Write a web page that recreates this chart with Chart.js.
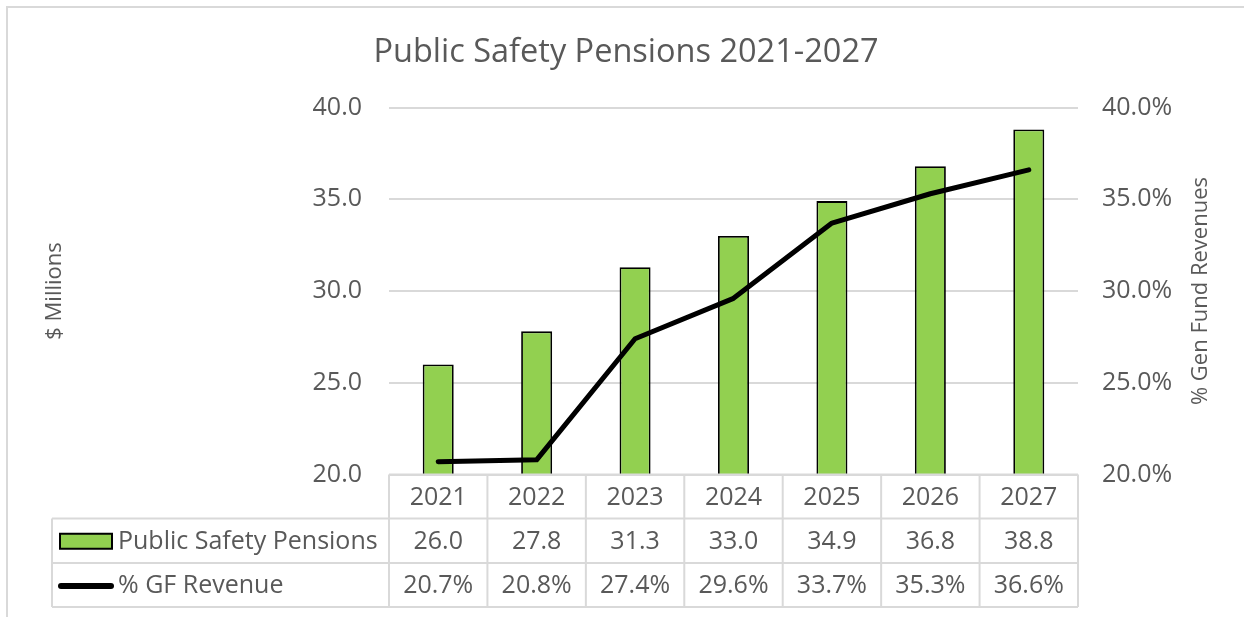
<!DOCTYPE html>
<html>
<head>
<meta charset="utf-8">
<script src="https://cdn.jsdelivr.net/npm/chart.js@4.4.1/dist/chart.umd.min.js"></script>
<style>
  html, body { margin: 0; padding: 0; background: #fff; }
  #wrap { width: 1244px; height: 617px; }
</style>
</head>
<body>
<div id="wrap"><canvas id="chart_publicSafetyPensions" width="1244" height="617"></canvas></div>
<script>
// values
const years = ['2021', '2022', '2023', '2024', '2025', '2026', '2027'];
const pensions = [26.0, 27.8, 31.3, 33.0, 34.9, 36.8, 38.8];      // $ millions
const gfRevenuePct = [20.7, 20.8, 27.4, 29.6, 33.7, 35.3, 36.6];  // % of general fund revenues

const barLabel = 'Public Safety Pensions';
const lineLabel = '% GF Revenue';

const FONT = "'Open Sans', 'Noto Sans', sans-serif";
const TEXT = '#595959';
const GRID = '#d9d9d9';
const GREEN = '#92D050';

var chart_publicSafetyPensions = new Chart(document.getElementById('chart_publicSafetyPensions'), {
    type: 'bar',
    data: {
        labels: years,
        datasets: [
            {
                type: 'line',
                label: lineLabel,
                data: gfRevenuePct,
                yAxisID: 'y1',
                order: 0,
                borderColor: '#000',
                borderWidth: 5,
                borderCapStyle: 'round',
                borderJoinStyle: 'round',
                pointRadius: 0,
                tension: 0,
                fill: false
            },
            {
                label: barLabel,
                data: pensions,
                yAxisID: 'y',
                order: 1,
                backgroundColor: GREEN,
                borderColor: '#000',
                borderWidth: 1.8,
                categoryPercentage: 1,
                barPercentage: 0.315
            }
        ]
    },
    options: {
        animation: false,
        responsive: false,
        layout: {
            padding: { left: 8, right: 0, top: 0, bottom: 142.5 }
        },
        plugins: {
            legend: { display: false },
            tooltip: { enabled: false },
            title: {
                display: true,
                text: 'Public Safety Pensions 2021-2027',
                color: TEXT,
                font: { family: FONT, size: 32.5, weight: 'normal' },
                padding: { top: 33, bottom: 35.5 }
            }
        },
        scales: {
            x: {
                display: false,
                offset: true
            },
            y: {
                position: 'left',
                min: 20,
                max: 40,
                ticks: {
                    stepSize: 5,
                    padding: 27,
                    color: TEXT,
                    font: { family: FONT, size: 25 },
                    callback: v => v.toFixed(1)
                },
                grid: { color: GRID, lineWidth: 2, drawTicks: false },
                border: { display: false },
                title: {
                    display: true,
                    text: '$ Millions',
                    color: TEXT,
                    font: { family: FONT, size: 22 },
                    padding: { top: 34, bottom: 0 }
                },
                afterFit: s => { s.width = 381; }
            },
            y1: {
                position: 'right',
                min: 20,
                max: 40,
                ticks: {
                    stepSize: 5,
                    padding: 24,
                    color: TEXT,
                    font: { family: FONT, size: 25 },
                    callback: v => v.toFixed(1) + '%'
                },
                grid: { drawOnChartArea: false, drawTicks: false },
                border: { display: false },
                afterFit: s => { s.width = 166; }
            }
        }
    },
    plugins: [{
        id: 'frameAndTable',
        beforeDraw: (chart) => {
            const ctx = chart.ctx;
            ctx.save();
            ctx.fillStyle = 'white';
            ctx.fillRect(0, 0, chart.width, chart.height);
            // outer chart border (only top and left visible in the crop)
            ctx.strokeStyle = GRID;
            ctx.lineWidth = 2;
            ctx.beginPath();
            ctx.moveTo(7, chart.height);
            ctx.lineTo(7, 7);
            ctx.lineTo(chart.width, 7);
            ctx.stroke();
            ctx.restore();
        },
        afterDraw: (chart) => {
            const ctx = chart.ctx;
            const area = chart.chartArea;
            const x = chart.scales.x;
            const colW = x.getPixelForValue(1) - x.getPixelForValue(0);
            const tableLeft = 52;
            const rowTops = [area.bottom, area.bottom + 44, area.bottom + 88.5, area.bottom + 132.5];

            ctx.save();
            // grid of the data table
            ctx.strokeStyle = GRID;
            ctx.lineWidth = 2;
            ctx.beginPath();
            ctx.moveTo(area.left, rowTops[0]);
            ctx.lineTo(area.right, rowTops[0]);
            for (let r = 1; r < rowTops.length; r++) {
                ctx.moveTo(tableLeft, rowTops[r]);
                ctx.lineTo(area.right, rowTops[r]);
            }
            ctx.moveTo(tableLeft, rowTops[1]);
            ctx.lineTo(tableLeft, rowTops[3]);
            for (let i = 0; i <= years.length; i++) {
                const cx = area.left + i * colW;
                ctx.moveTo(cx, rowTops[0]);
                ctx.lineTo(cx, rowTops[3]);
            }
            ctx.stroke();

            // cell values
            ctx.fillStyle = TEXT;
            ctx.font = '25px ' + FONT;
            ctx.textAlign = 'center';
            ctx.textBaseline = 'middle';
            const mid = r => (rowTops[r] + rowTops[r + 1]) / 2 + 1;
            years.forEach((yr, i) => {
                const cx = x.getPixelForValue(i);
                ctx.fillText(yr, cx, mid(0));
                ctx.fillText(pensions[i].toFixed(1), cx, mid(1));
                ctx.fillText(gfRevenuePct[i].toFixed(1) + '%', cx, mid(2));
            });

            // legend keys in the first column
            ctx.fillStyle = GREEN;
            ctx.fillRect(60, mid(1) - 8, 52, 15);
            ctx.strokeStyle = '#000';
            ctx.lineWidth = 2;
            ctx.strokeRect(60, mid(1) - 8, 52, 15);
            ctx.lineWidth = 6;
            ctx.lineCap = 'round';
            ctx.beginPath();
            ctx.moveTo(61, mid(2));
            ctx.lineTo(111, mid(2));
            ctx.stroke();

            ctx.fillStyle = TEXT;
            ctx.textAlign = 'left';
            ctx.fillText(barLabel, 118, mid(1));
            ctx.fillText(lineLabel, 118, mid(2));

            // right axis title, reading bottom to top
            ctx.translate(1201, (area.top + area.bottom) / 2);
            ctx.rotate(-Math.PI / 2);
            ctx.textAlign = 'center';
            ctx.font = '22px ' + FONT;
            ctx.fillText('% Gen Fund Revenues', 0, 0);
            ctx.restore();
        }
    }]
});
</script>
</body>
</html>
